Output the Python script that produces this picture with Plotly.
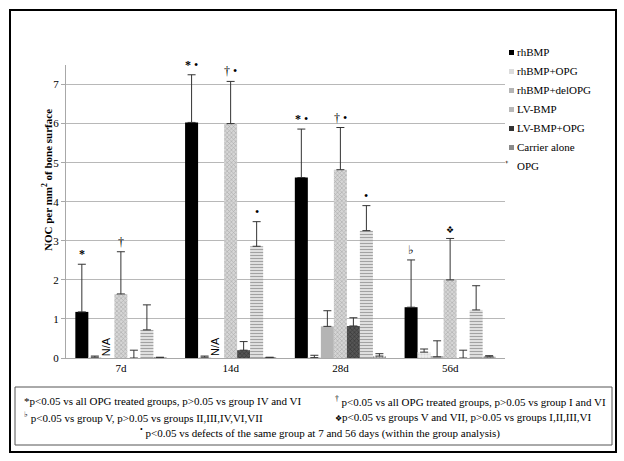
import plotly.graph_objects as go

# ---------------- data ----------------
categories = ["7d", "14d", "28d", "56d"]
series_names = ["rhBMP", "rhBMP+OPG", "rhBMP+delOPG", "LV-BMP", "LV-BMP+OPG", "Carrier alone", "OPG"]

rhBMP = [1.18, 6.03, 4.62, 1.30]
rhBMP_err = [1.22, 1.22, 1.24, 1.21]
rhBMP_OPG = [0.02, 0.02, 0.01, 0.15]
rhBMP_OPG_err = [0.03, 0.03, 0.06, 0.08]
rhBMP_delOPG = [None, None, 0.81, 0.03]
rhBMP_delOPG_err = [0, 0, 0.40, 0.41]
LV_BMP = [1.64, 6.00, 4.82, 2.00]
LV_BMP_err = [1.08, 1.08, 1.08, 1.06]
LV_BMP_OPG = [0.0, 0.20, 0.82, 0.0]
LV_BMP_OPG_err = [0.20, 0.22, 0.21, 0.20]
Carrier = [0.72, 2.86, 3.26, 1.23]
Carrier_err = [0.64, 0.63, 0.64, 0.62]
OPG = [0.01, 0.01, 0.05, 0.03]
OPG_err = [0.01, 0.01, 0.06, 0.03]

y_ticks = [0, 1, 2, 3, 4, 5, 6, 7]

# significance marks: (category, series index, text)
sig_marks = [
    ("7d", 0, "*"), ("7d", 3, "†"),
    ("14d", 0, "* •"), ("14d", 3, "† •"), ("14d", 5, "•"),
    ("28d", 0, "* •"), ("28d", 3, "† •"), ("28d", 5, "•"),
    ("56d", 0, "♭"), ("56d", 3, "❖"),
]
na_marks = [("7d", 2, "N/A"), ("14d", 2, "N/A")]

caption_lines = [
    ("*p<0.05 vs all OPG treated groups, p>0.05 vs group IV and VI", 22, 401, "left"),
    ("<sup>†</sup> p<0.05 vs all OPG treated groups, p>0.05 vs group I and VI", 333, 401, "left"),
    ("<sup>♭</sup> p<0.05 vs group V, p>0.05 vs groups II,III,IV,VI,VII", 22, 417, "left"),
    ("<span style='font-size:8px'>❖</span>p<0.05 vs groups V and VII, p>0.05 vs groups I,II,III,VI", 333, 417, "left"),
    ("<sup>•</sup> p<0.05 vs defects of the same group at 7 and 56 days (within the group analysis)", 138, 432, "left"),
]

values = [rhBMP, rhBMP_OPG, rhBMP_delOPG, LV_BMP, LV_BMP_OPG, Carrier, OPG]
errors = [rhBMP_err, rhBMP_OPG_err, rhBMP_delOPG_err, LV_BMP_err, LV_BMP_OPG_err, Carrier_err, OPG_err]

styles = [
    dict(color="#000000", pattern=dict(shape="")),
    dict(color="#e6e6e6", pattern=dict(shape=".", fgcolor="#bdbdbd", bgcolor="#eeeeee", size=3, solidity=0.4)),
    dict(color="#b4b4b4", pattern=dict(shape="")),
    dict(color="#cfcfcf", pattern=dict(shape="x", fgcolor="#7a7a7a", bgcolor="#d6d6d6", size=3, solidity=0.35)),
    dict(color="#3c3c3c", pattern=dict(shape="x", fgcolor="#1a1a1a", bgcolor="#555555", size=3, solidity=0.4)),
    dict(color="#ffffff", pattern=dict(shape="-", fgcolor="#505050", bgcolor="#f4f4f4", size=3, solidity=0.5)),
    dict(color="#ffffff", pattern=dict(shape=".", fgcolor="#222222", bgcolor="#ffffff", size=3, solidity=0.5)),
]
legend_colors = ["#000000", "#dcdcdc", "#b4b4b4", "#b8b8b8", "#333333", "#8a8a8a", None]

# ---------------- layout geometry ----------------
W, H = 624, 461
L, R, T, B = 66, 119, 65, 103
PW = W - L - R
PH = H - T - B
SLOT = 13


def px2x(px):
    return (px - L) / PW


def py2y(py):
    return (H - B - py) / PH


fig = go.Figure()
for name, v, e, st in zip(series_names, values, errors, styles):
    fig.add_trace(go.Bar(
        name=name, x=categories, y=v,
        marker=dict(color=st["color"], pattern=st["pattern"], line=dict(width=0)),
        error_y=dict(type="data", symmetric=False, array=e, arrayminus=[0] * len(e),
                     color="#333333", thickness=1, width=4),
        showlegend=False,
    ))

serif = "Liberation Serif"
annotations = []
for cat, si, txt in sig_marks:
    ci = categories.index(cat)
    top = values[si][ci] + errors[si][ci]
    label = txt.replace("*", "<b>*</b>")
    annotations.append(dict(x=cat, y=top, xref="x", yref="y", text=label, showarrow=False,
                            xshift=(si - 3) * SLOT, yshift=1, yanchor="bottom",
                            font=dict(family=serif, size=9 if txt == "❖" else 12, color="#000")))
for cat, si, txt in na_marks:
    annotations.append(dict(x=cat, y=0.3, xref="x", yref="y", text=txt, showarrow=False,
                            xshift=(si - 3) * SLOT - 2, textangle=-90, yanchor="middle",
                            font=dict(family="Liberation Sans", size=11, color="#000")))

# y-axis title
annotations.append(dict(x=px2x(38), y=py2y(180), xref="paper", yref="paper",
                        text="<b>NOC per mm<sup>2</sup> of bone surface</b>", showarrow=False,
                        textangle=-90, font=dict(family=serif, size=11, color="#000")))

# legend
shapes = []
leg_y = [52, 71, 90, 109, 128, 147, 166]
for name, c, ly in zip(series_names, legend_colors, leg_y):
    annotations.append(dict(x=px2x(515), y=py2y(ly), xref="paper", yref="paper", text=name,
                            showarrow=False, xanchor="left", yanchor="middle",
                            font=dict(family=serif, size=11, color="#000")))
    if c is not None:
        shapes.append(dict(type="rect", xref="paper", yref="paper",
                           x0=px2x(509), x1=px2x(514), y0=py2y(ly + 3), y1=py2y(ly - 2),
                           fillcolor=c, line=dict(width=0)))
    else:
        annotations.append(dict(x=px2x(511), y=py2y(ly - 2), xref="paper", yref="paper",
                                text="⁺", showarrow=False,
                                font=dict(family=serif, size=10, color="#000")))

# caption
for txt, x, y, anc in caption_lines:
    annotations.append(dict(x=px2x(x), y=py2y(y), xref="paper", yref="paper", text=txt,
                            showarrow=False, xanchor=anc, yanchor="middle",
                            font=dict(family=serif, size=11, color="#000")))

# caption box and outer frame
shapes.append(dict(type="rect", xref="paper", yref="paper",
                   x0=px2x(15), x1=px2x(612), y0=py2y(445), y1=py2y(387),
                   line=dict(color="#555555", width=1)))
shapes.append(dict(type="rect", xref="paper", yref="paper",
                   x0=px2x(10), x1=px2x(616), y0=py2y(452), y1=py2y(10),
                   line=dict(color="#000000", width=2)))

fig.update_layout(
    width=W, height=H,
    margin=dict(l=L, r=R, t=T, b=B),
    paper_bgcolor="white", plot_bgcolor="white",
    barmode="group", bargap=0.17, bargroupgap=0,
    font=dict(family=serif, size=11, color="#000"),
    xaxis=dict(showline=True, linecolor="#a8a8a8", linewidth=1, ticks="",
               tickfont=dict(family=serif, size=11), showgrid=False),
    yaxis=dict(range=[0, 7.5], tickvals=y_ticks, showline=True, linecolor="#a8a8a8",
               ticks="outside", ticklen=4, tickcolor="#a8a8a8", gridcolor="#b8b8b8",
               gridwidth=1, tickfont=dict(family=serif, size=11), zeroline=False),
    annotations=annotations, shapes=shapes,
    showlegend=False,
)

fig.write_html("out.html", config={"displayModeBar": False},
               post_script="document.body.style.margin='0px';")
